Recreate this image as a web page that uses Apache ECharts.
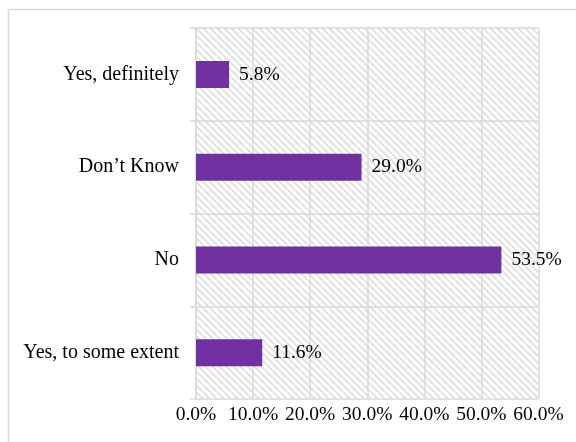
<!DOCTYPE html>
<html>
<head>
<meta charset="utf-8">
<script src="https://cdn.jsdelivr.net/npm/echarts@6/dist/echarts.min.js"></script>
<style>html,body{margin:0;padding:0;background:#fff}#c{width:576px;height:442px}</style>
</head>
<body>
<div id="c"></div>
<script>
const categories = ["Yes, to some extent", "No", "Don\u2019t Know", "Yes, definitely"];
const values = [11.6, 53.5, 29.0, 5.8];
const xTicks = [0, 10, 20, 30, 40, 50, 60];

function makeHatch() {
  const s = 7;
  const c = document.createElement('canvas');
  c.width = s; c.height = s;
  const g = c.getContext('2d');
  g.fillStyle = '#ffffff';
  g.fillRect(0, 0, s, s);
  g.strokeStyle = '#e2e2e2';
  g.lineWidth = 2;
  g.beginPath();
  for (let k = -s; k <= s; k += s) {
    g.moveTo(k, 0);
    g.lineTo(k + s, s);
  }
  g.stroke();
  return c;
}

const chart = echarts.init(document.getElementById('c'), null, {renderer: 'canvas'});
const font = '"Liberation Serif", "Times New Roman", serif';
chart.setOption({
  animation: false,
  backgroundColor: '#fff',
  textStyle: {fontFamily: font},
  graphic: [{
    type: 'rect', shape: {x: 8.5, y: 9.5, width: 700, height: 600},
    style: {fill: 'none', stroke: '#d9d9d9', lineWidth: 1.5}, silent: true, z: -10
  }],
  grid: {
    left: 196, top: 28, right: 37.5, bottom: 43,
    show: true,
    backgroundColor: {image: makeHatch(), repeat: 'repeat'},
    borderWidth: 0
  },
  xAxis: {
    type: 'value', min: xTicks[0], max: xTicks[xTicks.length - 1], interval: 10,
    axisLine: {show: false}, axisTick: {show: false},
    splitLine: {show: true, lineStyle: {color: '#d9d9d9', width: 1.5}},
    axisLabel: {
      margin: 6, color: '#000', fontSize: 19.5, fontFamily: font,
      formatter: v => v.toFixed(1) + '%'
    }
  },
  yAxis: {
    type: 'category', data: categories,
    axisLine: {show: true, lineStyle: {color: '#d9d9d9', width: 1.5}},
    axisTick: {show: true, length: 6, lineStyle: {color: '#d9d9d9', width: 1.5}},
    splitLine: {show: true, lineStyle: {color: '#d9d9d9', width: 1.5}},
    axisLabel: {margin: 17, color: '#000', fontSize: 20, fontFamily: font}
  },
  series: [{
    type: 'bar', data: values, barWidth: 27,
    itemStyle: {color: '#7030A0'},
    label: {
      show: true, position: 'right', distance: 10, color: '#000',
      fontSize: 19.5, fontFamily: font,
      formatter: p => p.value.toFixed(1) + '%'
    }
  }]
});
</script>
</body>
</html>
